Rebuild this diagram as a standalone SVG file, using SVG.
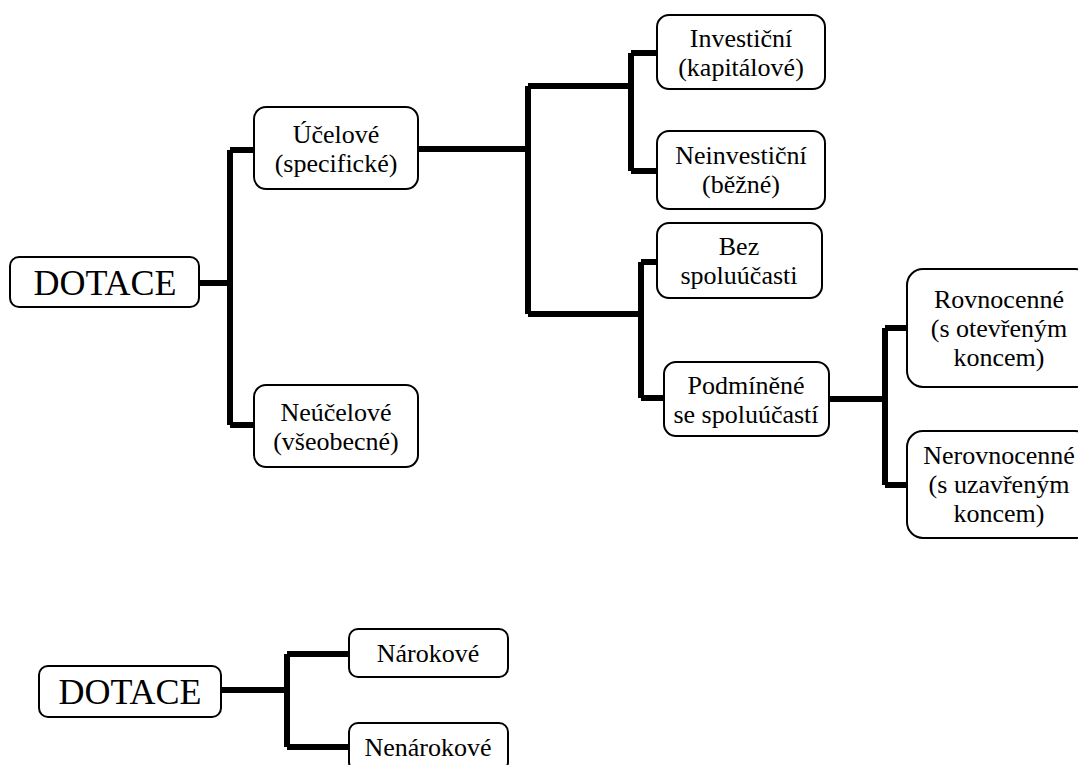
<svg xmlns="http://www.w3.org/2000/svg" width="1078" height="765" viewBox="0 0 1078 765">
<defs>
<style>
.box{fill:#fff;stroke:#000;stroke-width:2}
.c{fill:none;stroke:#000;stroke-width:6}
</style>
</defs>
<rect width="1078" height="765" fill="#ffffff"/>
<g id="connectors">
<path class="c" d="M199,283 H230 M230,150 V425 M230,150 H254 M230,425 H254"/>
<path class="c" d="M418,149 H528 M528,86 V314 M528,86 H631 M631,53 V171 M631,53 H657 M631,171 H657"/>
<path class="c" d="M528,314 H641 M641,262 V398 M641,262 H657 M641,398 H664"/>
<path class="c" d="M829,399 H885 M885,328 V485 M885,328 H907 M885,485 H907"/>
<path class="c" d="M221,690 H287 M287,654 V747 M287,654 H349 M287,747 H349"/>
</g>
<g id="dotace1"><rect class="box" x="10" y="257" width="189" height="50" rx="9"/><text font-family="'Times New Roman'" font-size="36" text-anchor="middle" x="105" y="295">DOTACE</text></g>
<g id="ucelove"><rect class="box" x="254" y="107" width="164" height="82" rx="12"/><text font-family="'Times New Roman'" font-size="26" text-anchor="middle" x="336" y="143">Účelové</text><text font-family="'Times New Roman'" font-size="26" text-anchor="middle" x="336" y="172">(specifické)</text></g>
<g id="neucelove"><rect class="box" x="254" y="385" width="164" height="82" rx="12"/><text font-family="'Times New Roman'" font-size="26" text-anchor="middle" x="336" y="421">Neúčelové</text><text font-family="'Times New Roman'" font-size="26" text-anchor="middle" x="336" y="450">(všeobecné)</text></g>
<g id="investicni"><rect class="box" x="657" y="15" width="168" height="74" rx="12"/><text font-family="'Times New Roman'" font-size="26" text-anchor="middle" x="741" y="47">Investiční</text><text font-family="'Times New Roman'" font-size="26" text-anchor="middle" x="741" y="76">(kapitálové)</text></g>
<g id="neinvesticni"><rect class="box" x="657" y="131" width="168" height="78" rx="12"/><text font-family="'Times New Roman'" font-size="26" text-anchor="middle" x="741" y="164">Neinvestiční</text><text font-family="'Times New Roman'" font-size="26" text-anchor="middle" x="741" y="193">(běžné)</text></g>
<g id="bez"><rect class="box" x="657" y="223" width="165" height="75" rx="12"/><text font-family="'Times New Roman'" font-size="26" text-anchor="middle" x="739" y="255">Bez</text><text font-family="'Times New Roman'" font-size="26" text-anchor="middle" x="739" y="284">spoluúčasti</text></g>
<g id="podminene"><rect class="box" x="664" y="362" width="165" height="74" rx="12"/><text font-family="'Times New Roman'" font-size="26" text-anchor="middle" x="746" y="394">Podmíněné</text><text font-family="'Times New Roman'" font-size="26" text-anchor="middle" x="746" y="423">se spoluúčastí</text></g>
<g id="rovnocenne"><rect class="box" x="907" y="269" width="184" height="118" rx="16"/><text font-family="'Times New Roman'" font-size="26" text-anchor="middle" x="999" y="308">Rovnocenné</text><text font-family="'Times New Roman'" font-size="26" text-anchor="middle" x="999" y="337">(s otevřeným</text><text font-family="'Times New Roman'" font-size="26" text-anchor="middle" x="999" y="366">koncem)</text></g>
<g id="nerovnocenne"><rect class="box" x="907" y="431" width="184" height="107" rx="16"/><text font-family="'Times New Roman'" font-size="26" text-anchor="middle" x="999" y="464">Nerovnocenné</text><text font-family="'Times New Roman'" font-size="26" text-anchor="middle" x="999" y="493">(s uzavřeným</text><text font-family="'Times New Roman'" font-size="26" text-anchor="middle" x="999" y="522">koncem)</text></g>
<g id="dotace2"><rect class="box" x="39" y="666" width="182" height="51" rx="9"/><text font-family="'Times New Roman'" font-size="36" text-anchor="middle" x="130" y="704">DOTACE</text></g>
<g id="narokove"><rect class="box" x="349" y="629" width="159" height="48" rx="9"/><text font-family="'Times New Roman'" font-size="26" text-anchor="middle" x="428" y="662">Nárokové</text></g>
<g id="nenarokove"><rect class="box" x="349" y="723" width="159" height="48" rx="9"/><text font-family="'Times New Roman'" font-size="26" text-anchor="middle" x="428" y="756">Nenárokové</text></g>
</svg>
